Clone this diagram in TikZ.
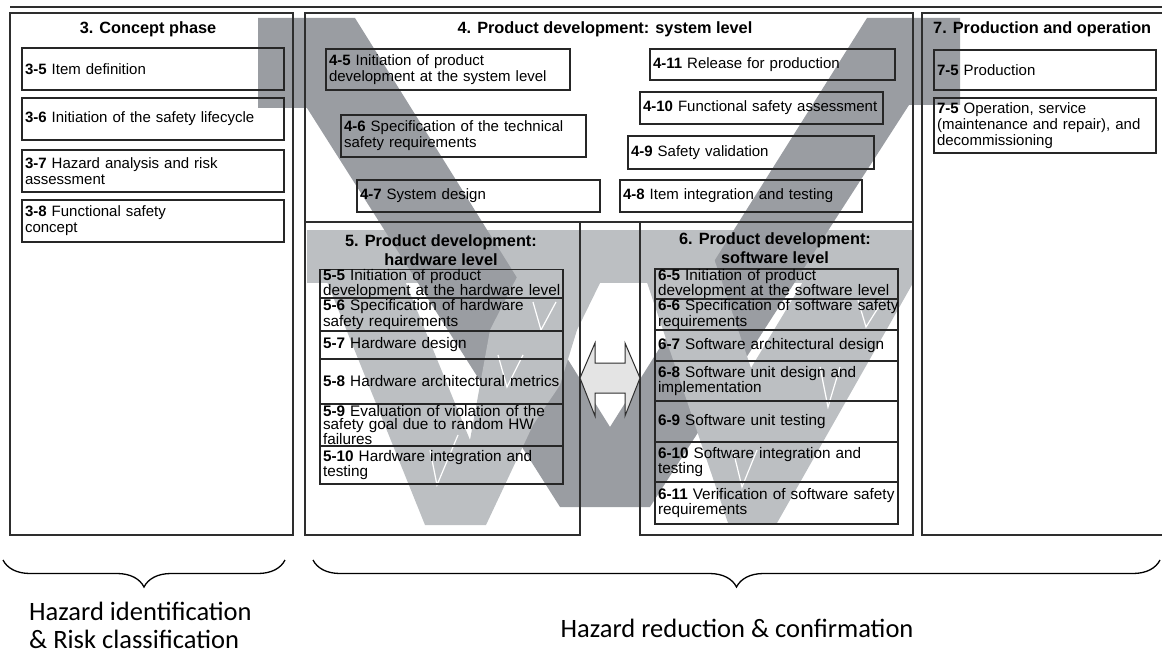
\documentclass[tikz,border=0pt]{standalone}
\usepackage{fontspec}
\setmainfont{Liberation Sans}
\newfontfamily\capfont{Carlito}
\usetikzlibrary{decorations.pathreplacing}
\definecolor{vdark}{HTML}{9A9DA2}
\definecolor{vlight}{HTML}{BCBFC2}
\definecolor{framec}{HTML}{2E2E2E}
\definecolor{arrowc}{HTML}{E4E4E4}
\tikzset{
  frame/.style={draw=framec, line width=2.6pt, inner sep=0pt},
  box/.style={draw=black!85, line width=1.1pt, inner xsep=3pt, inner ysep=0pt, align=left,
    font=\fontsize{15}{16}\selectfont},
  sbox/.style={box, inner xsep=2pt, font=\fontsize{15.3}{13}\selectfont},
  ttl/.style={font=\bfseries\fontsize{16.3}{19}\selectfont, inner sep=0pt},
  bracestyle/.style={decorate, decoration={brace, amplitude=27pt}, line width=1.3pt},
  captext/.style={font=\capfont\fontsize{26.5}{28}\selectfont, inner sep=0pt},
  vline/.style={white, line width=1.2pt},
}
\newcommand\mkbox[7]{%
  \pgfmathsetmacro\bw{#5-#3}%
  \pgfmathsetmacro\bh{#6-#4}%
  \pgfmathsetmacro\bcx{(#3+#5)/2}%
  \pgfmathsetmacro\bcy{(#4+#6)/2}%
  \pgfmathsetmacro\btw{#5-#3-6}%
  \node[#1, minimum width=\bw pt, minimum height=\bh pt, text width=\btw pt] (#2) at (\bcx,\bcy) {#7};}
\begin{document}
\begin{tikzpicture}[x=1pt, y=-1pt]
\useasboundingbox (0,0) rectangle (1162,655);
% ---- gray V shapes ----
% light top bands of the hardware and software V
\fill[vlight] (307,230) rectangle (913,283);
% large V
\fill[vdark] (258,18) -- (355,18) -- (610,427) -- (867,18) -- (960,18) -- (960,105) -- (909,105)
  -- (650,507) -- (560,507) -- (307,108) -- (258,108) -- cycle;
% hardware V
\fill[vlight] (307,232) -- (385,232) -- (470,440) -- (490,330) -- (540,232) -- (610,232) -- (600,283)
  -- (577,330) -- (560,385) -- (533,425) -- (486,525) -- (425,525) -- cycle;
% software V
\fill[vlight] (630,232) -- (705,232) -- (751,368) -- (833,232) -- (913,232) -- (913,283)
  -- (777,523) -- (728,523) -- cycle;
% thin white V marks
\draw[vline] (430,450) -- (437,485) -- (458,435);
\draw[vline] (498,355) -- (507,387) -- (523,355);
\draw[vline] (533,302) -- (541,330) -- (556,302);
\draw[vline] (733,450) -- (742,487) -- (757,450);
\draw[vline] (820,367) -- (828,407) -- (840,367);
\draw[vline] (858,300) -- (866,327) -- (883,300);
% ---- top rule ----
\coordinate (tl1) at (10,7);
\coordinate (tl2) at (1162,7);
\draw[framec, line width=1.3pt] (tl1) -- (tl2);
% ---- section frames ----
\mkbox{frame}{s3}{10}{13}{293}{535}{}
\mkbox{frame}{s4}{305}{13}{913}{222}{}
\mkbox{frame}{s5}{305}{222}{580}{535}{}
\mkbox{frame}{s6}{640}{222}{913}{535}{}
\mkbox{frame}{s7}{922}{13}{1176}{535}{}
% ---- titles ----
\node[ttl] (t3) at (148,29) {3. Concept phase};
\node[ttl] (t4) at (605,29) {4. Product development: system level};
\node[ttl, align=center] (t5) at (441,250) {5. Product development:\\hardware level};
\node[ttl, align=center] (t6) at (775,248) {6. Product development:\\software level};
\node[ttl, anchor=west] (t7) at (933,29) {7. Production and operation};
% ---- section 3 ----
\mkbox{box}{b35}{22}{48}{284}{90}{\textbf{3-5} Item definition}
\mkbox{box}{b36}{22}{98}{284}{140}{\textbf{3-6} Initiation of the safety lifecycle}
\mkbox{box}{b37}{22}{150}{284}{192}{\textbf{3-7} Hazard analysis and risk\\assessment}
\mkbox{box}{b38}{22}{200}{284}{242}{\textbf{3-8} Functional safety\\concept}
% ---- section 4 ----
\mkbox{box}{b45}{326}{49}{570}{90}{\textbf{4-5} Initiation of product\\development at the system level}
\mkbox{box}{b46}{341}{115}{586}{157}{\textbf{4-6} Specification of the technical\\safety requirements}
\mkbox{box}{b47}{357}{180}{600}{212}{\textbf{4-7} System design}
\mkbox{box}{b411}{650}{49}{895}{80}{\textbf{4-11} Release for production}
\mkbox{box}{b410}{640}{92}{883}{124}{\textbf{4-10} Functional safety assessment}
\mkbox{box}{b49}{628}{136}{874}{169}{\textbf{4-9} Safety validation}
\mkbox{box}{b48}{620}{180}{862}{212}{\textbf{4-8} Item integration and testing}
% ---- section 5 ----
\mkbox{sbox}{b55}{320}{270}{563}{298}{\mbox{\textbf{5-5} Initiation of product}\\\mbox{development at the hardware level}}
\mkbox{sbox}{b56}{320}{298}{563}{331}{\mbox{\textbf{5-6} Specification of hardware}\\\mbox{safety requirements}}
\mkbox{sbox}{b57}{320}{331}{563}{359}{\mbox{\textbf{5-7} Hardware design}}
\mkbox{sbox}{b58}{320}{359}{563}{404}{\mbox{\textbf{5-8} Hardware architectural metrics}}
\mkbox{sbox}{b59}{320}{404}{563}{446}{\mbox{\textbf{5-9} Evaluation of violation of the}\\\mbox{safety goal due to random HW}\\\mbox{failures}}
\mkbox{sbox}{b510}{320}{446}{563}{484}{\mbox{\textbf{5-10} Hardware integration and}\\\mbox{testing}}
% ---- section 6 ----
\mkbox{sbox}{b65}{655}{269}{898}{299}{\mbox{\textbf{6-5} Initiation of product}\\\mbox{development at the software level}}
\mkbox{sbox}{b66}{655}{299}{898}{330}{\mbox{\textbf{6-6} Specification of software safety}\\\mbox{requirements}}
\mkbox{sbox}{b67}{655}{330}{898}{361}{\mbox{\textbf{6-7} Software architectural design}}
\mkbox{sbox}{b68}{655}{361}{898}{401}{\mbox{\textbf{6-8} Software unit design and}\\\mbox{implementation}}
\mkbox{sbox}{b69}{655}{401}{898}{442}{\mbox{\textbf{6-9} Software unit testing}}
\mkbox{sbox}{b610}{655}{442}{898}{482}{\mbox{\textbf{6-10} Software integration and}\\\mbox{testing}}
\mkbox{sbox}{b611}{655}{482}{898}{524}{\mbox{\textbf{6-11} Verification of software safety}\\\mbox{requirements}}
% ---- section 7 ----
\mkbox{box}{b75}{934}{50}{1156}{90}{\textbf{7-5} Production}
\mkbox{box}{b75b}{934}{98}{1156}{153}{\textbf{7-5} Operation, service\\(maintenance and repair), and\\decommissioning}
% ---- double arrow between HW and SW ----
\draw[fill=arrowc, draw=framec, line width=1pt, line join=miter]
  (580,378) -- (595,343) -- (595,363) -- (625,363) -- (625,343) -- (640,378)
  -- (625,416) -- (625,393) -- (595,393) -- (595,416) -- cycle;
% ---- braces ----
\coordinate (br1a) at (3,560);
\coordinate (br1b) at (285,560);
\coordinate (br2a) at (313,560);
\coordinate (br2b) at (1160,560);
\draw[bracestyle] (br1b) -- (br1a);
\draw[bracestyle] (br2b) -- (br2a);
% ---- captions ----
\node[captext, anchor=base west] (c1a) at (29,620) {Hazard identification};
\node[captext, anchor=base west] (c1b) at (29,648) {\& Risk classification};
\node[captext, anchor=base] (c2) at (737,637) {Hazard reduction \& confirmation};
\end{tikzpicture}
\end{document}
